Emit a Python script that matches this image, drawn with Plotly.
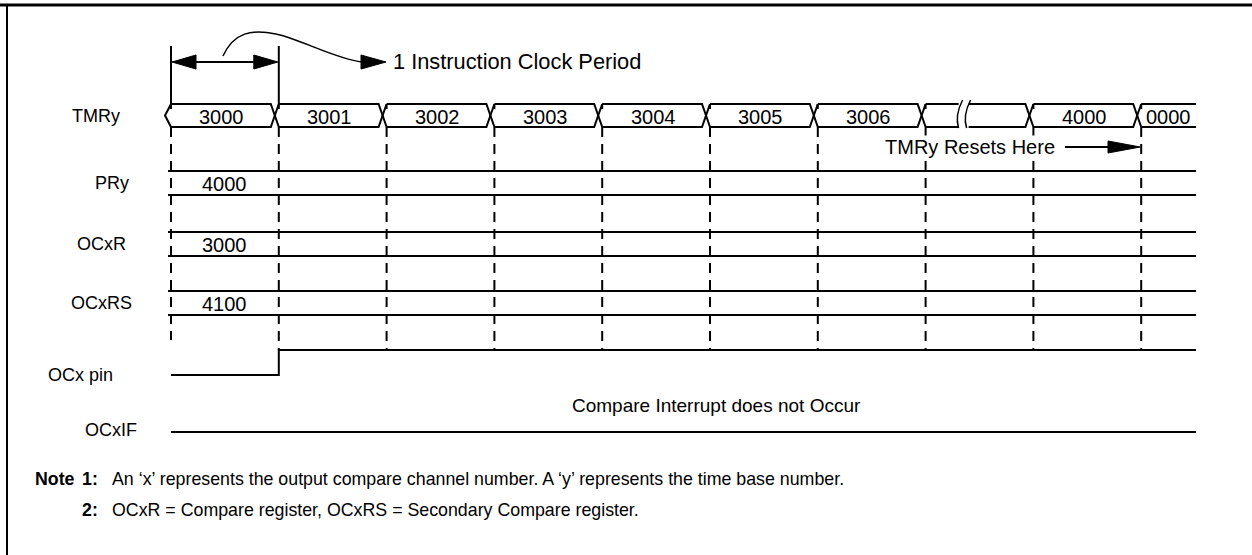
import plotly.graph_objects as go

# ---------------- data ----------------
tmr_values = ["3000", "3001", "3002", "3003", "3004", "3005", "3006", "", "4000", "0000"]
tmr_break_cell = 7
row_labels = ["TMRy", "PRy", "OCxR", "OCxRS", "OCx pin", "OCxIF"]
pry_value = "4000"
ocxr_value = "3000"
ocxrs_value = "4100"
ocx_pin_levels = [0, 1, 1, 1, 1, 1, 1, 1, 1, 1]
ocxif_levels = [0, 0, 0, 0, 0, 0, 0, 0, 0, 0]
reset_edge = 9
clock_period_text = "1 Instruction Clock Period"
reset_text = "TMRy Resets Here"
interrupt_text = "Compare Interrupt does not Occur"
note_head = "Note"
note_numbers = ["1:", "2:"]
note_texts = [
    "An \u2018x\u2019 represents the output compare channel number. A \u2018y\u2019 represents the time base number.",
    "OCxR = Compare register, OCxRS = Secondary Compare register.",
]

# ---------------- layout constants (pixels) ----------------
W, H = 1252, 555
X0, DX = 171.0, 107.8
X_END = 1196
FONT = "Liberation Sans, Arial, Helvetica, sans-serif"
FS_DIAG = 20
FS_LABEL = 18
FS_NOTE = 17.8

def cx(t):
    return X0 + DX * t

BUS_TOP, BUS_BOT = 104, 127
BUS_MID = (BUS_TOP + BUS_BOT) / 2
ARROW_Y = 62
BRACKET_TOP = 46
RESET_Y = 147
REG_ROWS = {"PRy": (171, 195), "OCxR": (232, 256), "OCxRS": (291, 315)}
OCX_HIGH, OCX_LOW = 350, 375
OCXIF_Y = 432
INT_TEXT_Y = 405
NOTE_Y = [479, 510]
LABEL_X = {"TMRy": 96, "PRy": 112, "OCxR": 101, "OCxRS": 101, "OCx pin": 80, "OCxIF": 111}
LABEL_Y = {"TMRy": BUS_MID, "PRy": 183, "OCxR": 244, "OCxRS": 303, "OCx pin": OCX_LOW, "OCxIF": OCXIF_Y - 2}

fig = go.Figure()
solid = []
dashed = []
tris = []

def poly(pts, store=solid):
    store.append(pts)

def font(size):
    return dict(family=FONT, size=size, color="black")

# bracket for the clock period
poly([(cx(0), BRACKET_TOP), (cx(0), BUS_TOP)])
poly([(cx(1), BRACKET_TOP), (cx(1), BUS_TOP)])
poly([(cx(0) + 20, ARROW_Y), (cx(1) - 20, ARROW_Y)])
tris.append([(cx(0) + 1, ARROW_Y), (cx(0) + 25, ARROW_Y - 7), (cx(0) + 25, ARROW_Y + 7)])
tris.append([(cx(1) - 1, ARROW_Y), (cx(1) - 25, ARROW_Y - 7), (cx(1) - 25, ARROW_Y + 7)])
tris.append([(386, ARROW_Y), (361, ARROW_Y - 7), (361, ARROW_Y + 7)])

# TMRy bus
n = len(tmr_values)
for i, val in enumerate(tmr_values):
    a = cx(i)
    last = i == n - 1
    b = X_END if last else cx(i + 1)
    if i == 0:
        poly([(a, BUS_TOP), (a - 6, BUS_MID), (a, BUS_BOT)])
    if last:
        poly([(a, BUS_TOP), (b, BUS_TOP)])
        poly([(a, BUS_BOT), (b, BUS_BOT)])
    elif i == tmr_break_cell:
        bx = a + 38
        poly([(a, BUS_TOP), (bx - 5, BUS_TOP)])
        poly([(a, BUS_BOT), (bx - 5, BUS_BOT)])
        poly([(bx + 5, BUS_TOP), (b - 8, BUS_TOP), (b, BUS_BOT)])
        poly([(bx + 5, BUS_BOT), (b - 8, BUS_BOT), (b, BUS_TOP)])
        for off in (-4, 4):
            x = bx + off
            fig.add_shape(type="path", xref="x", yref="y",
                          path=f"M {x+3},{BUS_TOP-4} Q {x-5},{BUS_MID} {x-1},{BUS_BOT+1}",
                          line=dict(color="black", width=1.5))
    else:
        poly([(a, BUS_TOP), (b - 8, BUS_TOP), (b, BUS_BOT)])
        poly([(a, BUS_BOT), (b - 8, BUS_BOT), (b, BUS_TOP)])
    if val:
        xc = (a + b) / 2 if last else (a + b - 6) / 2
        fig.add_annotation(x=xc, y=BUS_MID + 1, text=val, showarrow=False, font=font(FS_DIAG))

# dashed clock edge markers
for e in range(n):
    x = cx(e)
    poly([(x, BUS_TOP), (x, BUS_TOP + 5)])
    end = 340 if ocx_pin_levels[e] == 0 else OCX_HIGH
    poly([(x, BUS_BOT), (x, end)], dashed)

# reset arrow
poly([(1065, RESET_Y), (1112, RESET_Y)])
tris.append([(cx(reset_edge) - 1, RESET_Y), (1108, RESET_Y - 6), (1108, RESET_Y + 6)])

# register rows
reg_vals = {"PRy": pry_value, "OCxR": ocxr_value, "OCxRS": ocxrs_value}
for name, (yt, yb) in REG_ROWS.items():
    poly([(cx(0) - 3, yt), (X_END, yt)])
    poly([(cx(0) - 3, yb), (X_END, yb)])
    fig.add_annotation(x=(cx(0) + cx(1)) / 2, y=(yt + yb) / 2 + 1, text=reg_vals[name],
                       showarrow=False, font=font(FS_DIAG))

# digital signals
def step(levels, y_low, y_high):
    pts = []
    for i, lv in enumerate(levels):
        y = y_high if lv else y_low
        a = cx(i)
        b = X_END if i == len(levels) - 1 else cx(i + 1)
        pts.append((a, y))
        pts.append((b, y))
    return pts

poly(step(ocx_pin_levels, OCX_LOW, OCX_HIGH))
poly(step(ocxif_levels, OCXIF_Y, OCXIF_Y - 25))

# ---- traces ----
def to_xy(polys):
    xs, ys = [], []
    for p in polys:
        for (x, y) in p:
            xs.append(x)
            ys.append(y)
        xs.append(None)
        ys.append(None)
    return xs, ys

xs, ys = to_xy(solid)
fig.add_trace(go.Scatter(x=xs, y=ys, mode="lines", line=dict(color="black", width=2), hoverinfo="skip"))
xs, ys = to_xy(dashed)
fig.add_trace(go.Scatter(x=xs, y=ys, mode="lines", line=dict(color="black", width=2, dash="10px,7px"),
                         hoverinfo="skip"))
for t in tris:
    fig.add_trace(go.Scatter(x=[p[0] for p in t] + [t[0][0]], y=[p[1] for p in t] + [t[0][1]],
                             mode="lines", fill="toself", fillcolor="black",
                             line=dict(color="black", width=1), hoverinfo="skip"))

# frame
fig.add_trace(go.Scatter(x=[0, W], y=[5, 5], mode="lines", line=dict(color="black", width=3), hoverinfo="skip"))
fig.add_trace(go.Scatter(x=[7, 7], y=[6, H], mode="lines", line=dict(color="black", width=2), hoverinfo="skip"))

# curved pointer
fig.add_shape(type="path", xref="x", yref="y",
              path=f"M 223,{ARROW_Y-6} C 234,{ARROW_Y-30} 252,{ARROW_Y-33} 276,{ARROW_Y-28} "
                   f"S 336,{ARROW_Y-3} 362,{ARROW_Y}",
              line=dict(color="black", width=1.5))

# texts
fig.add_annotation(x=391, y=ARROW_Y - 1, text=clock_period_text, xanchor="left", showarrow=False,
                   font=font(21.8))
fig.add_annotation(x=1056, y=RESET_Y, text=reset_text, xanchor="right", showarrow=False,
                   font=font(FS_DIAG), bgcolor="white", borderpad=0)
fig.add_annotation(x=716, y=INT_TEXT_Y, text=interrupt_text, showarrow=False, font=font(19))
for lab in row_labels:
    fig.add_annotation(x=LABEL_X[lab], y=LABEL_Y[lab], text=lab, showarrow=False, font=font(FS_LABEL))
fig.add_annotation(x=33, y=NOTE_Y[0], text=f"<b>{note_head}</b>", xanchor="left", showarrow=False,
                   font=font(FS_NOTE))
for k in range(2):
    fig.add_annotation(x=100, y=NOTE_Y[k], text=f"<b>{note_numbers[k]}</b>", xanchor="right",
                       showarrow=False, font=font(FS_NOTE))
    fig.add_annotation(x=110, y=NOTE_Y[k], text=note_texts[k], xanchor="left", showarrow=False,
                       font=font(FS_NOTE))

fig.update_layout(
    width=W, height=H, autosize=False,
    margin=dict(l=0, r=0, t=0, b=0),
    paper_bgcolor="white", plot_bgcolor="white",
    showlegend=False,
    xaxis=dict(range=[0, W], visible=False, fixedrange=True),
    yaxis=dict(range=[H, 0], visible=False, fixedrange=True),
)

fig.write_html("out.html", config={"displayModeBar": False, "staticPlot": True},
               post_script="document.body.style.margin='0';document.body.style.overflow='hidden';")
